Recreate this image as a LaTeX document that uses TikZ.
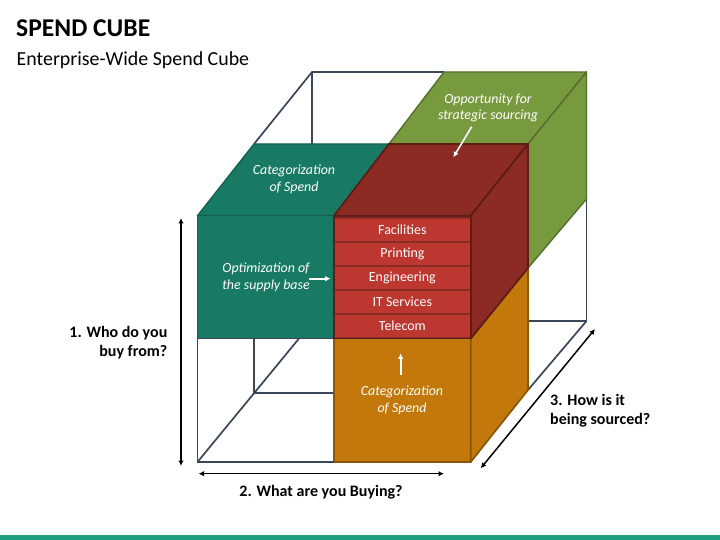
\documentclass[tikz,border=0pt]{standalone}
\usepackage{fontspec}
\setmainfont{Carlito}
\usepackage{tikz}
\usetikzlibrary{positioning,arrows.meta}

\definecolor{wirecol}{HTML}{3B4658}
\definecolor{tealcol}{HTML}{187A64}
\definecolor{tealedge}{HTML}{14604F}
\definecolor{greencol}{HTML}{789A3F}
\definecolor{greenedge}{HTML}{566E2D}
\definecolor{maroon}{HTML}{8B2B24}
\definecolor{maroonedge}{HTML}{5F1D18}
\definecolor{stripcol}{HTML}{BC372F}
\definecolor{orangecol}{HTML}{C2780A}
\definecolor{orangeedge}{HTML}{8A5608}
\definecolor{barcol}{HTML}{1F9E82}

\tikzset{
	wire/.style={draw=wirecol, line width=1.7pt},
	tealface/.style={fill=tealcol, draw=tealedge, line width=1.4pt, line join=round},
	greenface/.style={fill=greencol, draw=greenedge, line width=1.4pt, line join=round},
	redface/.style={fill=maroon, draw=maroonedge, line width=1.8pt, line join=round},
	orangeface/.style={fill=orangecol, draw=orangeedge, line width=1.7pt, line join=round},
	strip/.style={fill=stripcol, draw=maroon, line width=1.3pt, text=white, inner sep=0pt, outer sep=0pt, minimum width=136.7pt, minimum height=24pt, font=\fontsize{13.9}{15}\selectfont},
	note/.style={text=white, align=center, inner sep=0pt, font=\fontsize{13.9}{16.7}\selectfont\itshape},
	axis/.style={black, line width=1.5pt, {Latex[length=5.5pt,width=5.5pt]}-{Latex[length=5.5pt,width=5.5pt]}},
	axistext/.style={align=right, inner sep=0pt, font=\fontsize{16}{19.5}\selectfont\bfseries},
	pointer/.style={white, line width=1.6pt, -{Latex[length=5.5pt,width=5.5pt]}}
}

\begin{document}
\begin{tikzpicture}[x=1pt,y=-1pt]
	\useasboundingbox (0,0) rectangle (720,540);

	%% CUBE CORNERS
	\coordinate (ftl) at (197.5,215.7);
	\coordinate (ftm) at (334,215.7);
	\coordinate (ftr) at (470.7,215.7);
	\coordinate (fml) at (197.5,338.5);
	\coordinate (fmm) at (334,338.5);
	\coordinate (fmr) at (470.7,338.5);
	\coordinate (fbl) at (197.5,462);
	\coordinate (fbm) at (334,462);
	\coordinate (fbr) at (470.7,462);
	\coordinate (mtl) at (254,144);
	\coordinate (mtm) at (389,144);
	\coordinate (mtr) at (528,144);
	\coordinate (mmr) at (528,268);
	\coordinate (mbr) at (528,390);
	\coordinate (mml) at (254,338.5);
	\coordinate (mbl) at (254,393);
	\coordinate (mbm) at (334,393);
	\coordinate (mcross) at (299,338.5);
	\coordinate (btl) at (312,72);
	\coordinate (btm) at (444,72);
	\coordinate (btr) at (586.5,72);
	\coordinate (bmr) at (586.5,199);
	\coordinate (bbr) at (586.5,321);
	\coordinate (bbm) at (528,321);

	%% WIRE FRAME
	\draw[wire] (mtl) -- (btl) -- (btm);
	\draw[wire] (btl) -- (312,144);
	\draw[wire] (fml) -- (fbl) -- (fbm);
	\draw[wire] (fbl) -- (mcross);
	\draw[wire] (mml) -- (mbl) -- (mbm);
	\draw[wire] (fmm) -- (fbm);
	\draw[wire] (bmr) -- (bbr) -- (bbm);
	\draw[wire] (bbr) -- (mbr);

	%% GREEN SLICE
	\draw[greenface] (mtm) -- (btm) -- (btr) -- (mtr) -- cycle;
	\draw[greenface] (mtr) -- (btr) -- (bmr) -- (mmr) -- cycle;

	%% TEAL SLICE
	\draw[tealface] (ftl) -- (mtl) -- (mtm) -- (ftm) -- cycle;
	\draw[tealface] (ftl) -- (ftm) -- (fmm) -- (fml) -- cycle;
	\draw[wire] (fml) -- (fmm);

	%% ORANGE SLICE
	\draw[orangeface] (fmm) -- (fmr) -- (fbr) -- (fbm) -- cycle;
	\draw[orangeface] (fmr) -- (mmr) -- (mbr) -- (fbr) -- cycle;
	\draw[wire] (fbl) -- (fbm);

	%% RED BLOCK
	\draw[redface] (ftm) -- (mtm) -- (mtr) -- (ftr) -- cycle;
	\draw[redface] (ftr) -- (mtr) -- (mmr) -- (fmr) -- cycle;
	\draw[redface] (ftm) -- (ftr) -- (fmr) -- (fmm) -- cycle;

	\node[strip] at (402.35,230) (facilities) {Facilities};
	\node[strip, below=0pt of facilities] (printing) {Printing};
	\node[strip, below=0pt of printing] (engineering) {Engineering};
	\node[strip, below=0pt of engineering] (services) {IT Services};
	\node[strip, below=0pt of services] (telecom) {Telecom};
	\draw[maroonedge, line width=1.8pt] (ftm) -- (ftr) -- (fmr) -- (fmm) -- cycle;

	%% NOTES
	\node[note] at (294,179.3) (cat_top) {Categorization\\of Spend};
	\node[note] at (488,108) (opportunity) {Opportunity for\\strategic sourcing};
	\node[note] at (266,277) (optimization) {Optimization of\\the supply base};
	\node[note] at (402,400) (cat_front) {Categorization\\of Spend};

	\coordinate (opp_start) at (471.7,126.7);
	\coordinate (opp_end) at (453.3,157.3);
	\coordinate (opt_start) at (309.3,278.7);
	\coordinate (opt_end) at (330.7,278.7);
	\coordinate (cat_start) at (400.7,375);
	\coordinate (cat_end) at (400.7,353.3);
	\draw[pointer] (opp_start) -- (opp_end);
	\draw[pointer] (opt_start) -- (opt_end);
	\draw[pointer] (cat_start) -- (cat_end);

	%% AXES
	\coordinate (who_top) at (181,218);
	\coordinate (who_bottom) at (181,466);
	\coordinate (what_left) at (198.5,473.7);
	\coordinate (what_right) at (444,473.7);
	\coordinate (how_near) at (480.7,468.3);
	\coordinate (how_far) at (595,329);
	\draw[axis] (who_top) -- (who_bottom);
	\draw[axis] (what_left) -- (what_right);
	\draw[axis] (how_near) -- (how_far);

	\node[axistext, anchor=east] at (167.5,342.8) (who) {1. Who do you\\buy from?};
	\node[axistext, anchor=center] at (321,492.5) (what) {2. What are you Buying?};
	\node[axistext, anchor=west, align=left] at (550,410.5) (how) {3. How is it\\being sourced?};

	%% TITLE
	\node[anchor=west, inner sep=0pt, font=\fontsize{25.6}{28}\selectfont\bfseries] at (16,28.5) (title) {SPEND CUBE};
	\node[anchor=west, inner sep=0pt, font=\fontsize{19.9}{23}\selectfont] at (16.5,60.5) (subtitle) {Enterprise-Wide Spend Cube};

	%% FOOTER
	\fill[barcol] (0,535) rectangle (720,540);
\end{tikzpicture}
\end{document}
